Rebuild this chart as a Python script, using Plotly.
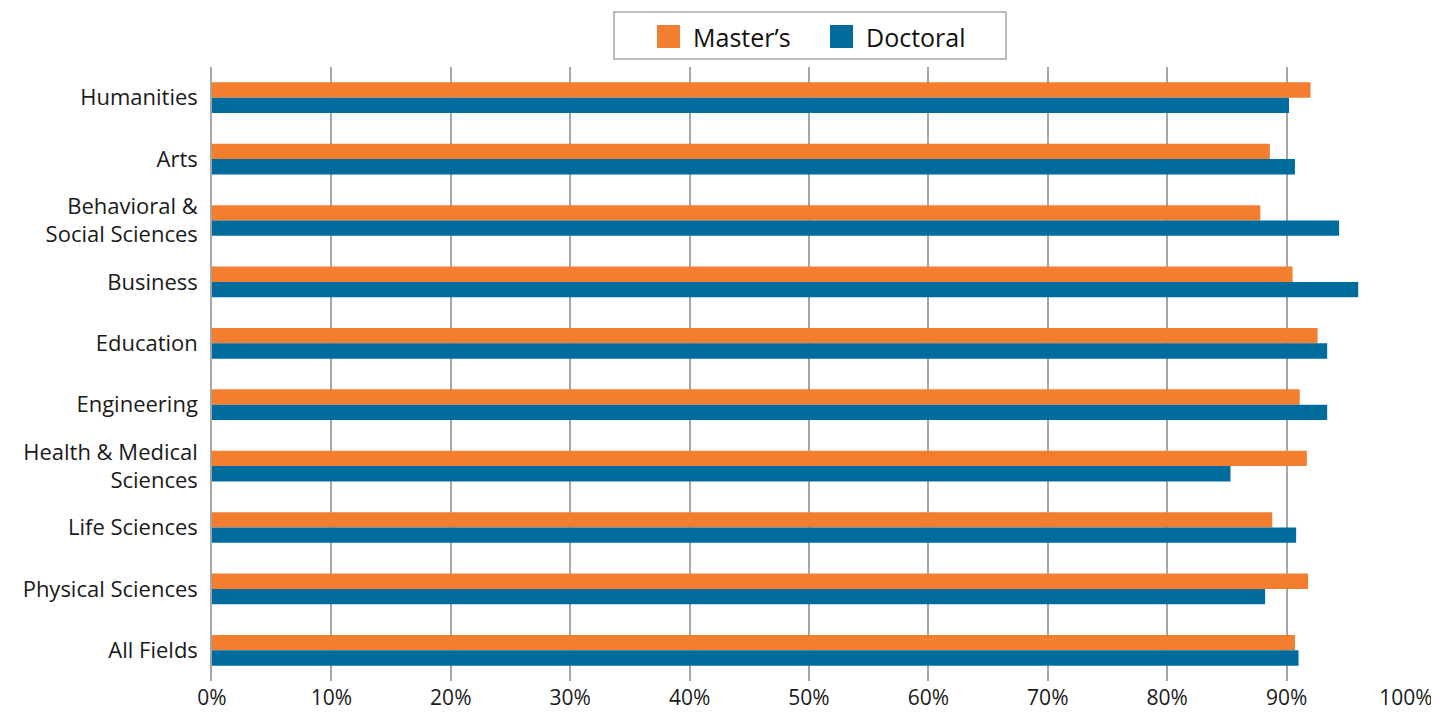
import plotly.graph_objects as go

categories = ["Humanities", "Arts", "Behavioral &<br>Social Sciences", "Business", "Education",
              "Engineering", "Health & Medical<br>Sciences", "Life Sciences", "Physical Sciences", "All Fields"]
masters = [92.0, 88.6, 87.8, 90.5, 92.6, 91.1, 91.7, 88.8, 91.8, 90.7]
doctoral = [90.2, 90.7, 94.4, 96.0, 93.4, 93.4, 85.3, 90.8, 88.2, 91.0]
tick_vals = [0, 10, 20, 30, 40, 50, 60, 70, 80, 90, 100]
tick_text = [f"{v}%" for v in tick_vals]
series_names = ["Master’s", "Doctoral"]

ORANGE = "#F47E30"
BLUE = "#006C9E"
FONT = "Open Sans"
GRID = "#a6a6a6"

# page body has an 8px margin; figure sized so plot area lands where the reference has it
W, H = 1431, 705
L, R, T, B = 204, 33, 59, 32
PW, PH = W - L - R, H - T - B


def px_x(px):  # viewport pixel -> paper x
    return (px - 8 - L) / PW


def px_y(py):  # viewport pixel -> paper y
    return (H - B + 8 - py) / PH


fig = go.Figure()
fig.add_trace(go.Bar(y=categories, x=masters, name=series_names[0], orientation="h",
                     marker=dict(color=ORANGE, line=dict(width=0)), showlegend=False))
fig.add_trace(go.Bar(y=categories, x=doctoral, name=series_names[1], orientation="h",
                     marker=dict(color=BLUE, line=dict(width=0)), showlegend=False))

shapes = [
    dict(type="rect", xref="paper", yref="paper",
         x0=px_x(614), x1=px_x(1006), y0=px_y(59), y1=px_y(12),
         line=dict(color=GRID, width=1.5), fillcolor="white", layer="above"),
]
annotations = []
for name, col, sx, tx in [(series_names[0], ORANGE, 657, 691), (series_names[1], BLUE, 830, 864)]:
    shapes.append(dict(type="rect", xref="paper", yref="paper",
                       x0=px_x(sx), x1=px_x(sx + 23), y0=px_y(48), y1=px_y(25),
                       line=dict(width=0), fillcolor=col, layer="above"))
    annotations.append(dict(text=name, xref="paper", yref="paper", x=px_x(tx), y=px_y(37),
                            xanchor="left", yanchor="middle", showarrow=False,
                            font=dict(family=FONT, size=25, color="#111111")))

fig.update_layout(
    width=W, height=H,
    paper_bgcolor="white", plot_bgcolor="white",
    margin=dict(l=L, r=R, t=T, b=B, autoexpand=False),
    barmode="group", bargap=0.5, bargroupgap=0,
    font=dict(family=FONT, size=22, color="#1a1a1a"),
    showlegend=False,
    shapes=shapes, annotations=annotations,
    xaxis=dict(range=[0, 100], tickvals=tick_vals, ticktext=tick_text,
               showgrid=True, gridcolor=GRID, gridwidth=1.5,
               zeroline=False, showline=False, ticks="", fixedrange=True,
               tickfont=dict(size=21), ticklabelstandoff=2, automargin=False),
    yaxis=dict(autorange="reversed", showgrid=False, ticks="", ticklen=0,
               showline=True, linecolor=GRID, linewidth=1.5,
               ticklabelstandoff=8, automargin=False),
)
fig.write_html("out.html")
